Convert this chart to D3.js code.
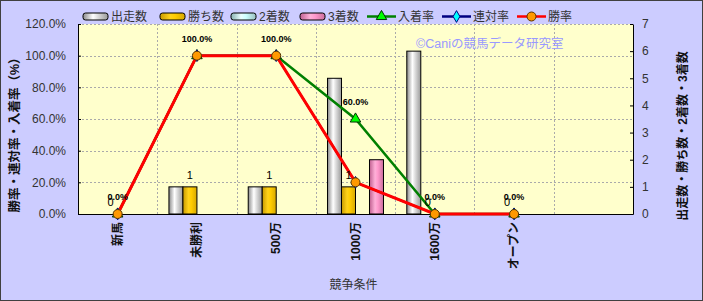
<!DOCTYPE html>
<html><head><meta charset="utf-8">
<script src="https://cdn.jsdelivr.net/npm/d3@7"></script>
<style>
html,body{margin:0;padding:0;background:#fff;}
svg text{font-family:"Liberation Sans","Noto Sans CJK JP",sans-serif;}
</style></head>
<body><svg id="c" width="703" height="301"></svg>
<script>
// ---- data ----
const categories = ["新馬","未勝利","500万","1000万","1600万","オープン",""];
const starters = [0,1,1,5,6,0];
const wins = [0,1,1,1,0,0];
const seconds = [0,0,0,0,0,0];
const thirds = [0,0,0,2,0,0];
const placeRate = [0,100,100,60,0,0];
const rentaiRate = [0,100,100,20,0,0];
const winRate = [0,100,100,20,0,0];
const leftTicks = [0,20,40,60,80,100,120];
const rightTicks = [0,1,2,3,4,5,6,7];
const barSeries = ["出走数","勝ち数","2着数","3着数"];
const lineSeries = ["入着率","連対率","勝率"];

// ---- layout ----
const W=703,H=301;
const P={l:78,r:633,t:24,b:214};
const svg=d3.select("#c");
const defs=svg.append("defs");
svg.append("rect").attr("width",W).attr("height",H).attr("fill","#CCCCFF");
svg.append("rect").attr("x",0.5).attr("y",0.5).attr("width",W-1).attr("height",H-1)
  .attr("fill","none").attr("stroke","#404040");
svg.append("rect").attr("x",P.l).attr("y",P.t).attr("width",P.r-P.l).attr("height",P.b-P.t).attr("fill","#FFFFCC");

const x=d3.scaleBand().domain(categories).range([P.l,P.r]).padding(0);
const bw=x.bandwidth(), gw=bw*0.706;
const x1=d3.scaleBand().domain(barSeries).range([(bw-gw)/2,(bw+gw)/2]).padding(0);
const yL=d3.scaleLinear().domain([0,120]).range([P.b,P.t]);
const yR=d3.scaleLinear().domain([0,7]).range([P.b,P.t]);

// gradients
const barStyles=[
 {id:"g0",c:["#8a8a8a","#ffffff","#dcdcdc","#9a9a9a"]},
 {id:"g1",c:["#c89a00","#ffd21a","#ffcc00","#d6a800"]},
 {id:"g2",c:["#88b0b0","#eaffff","#ccffff","#99bfbf"]},
 {id:"g3",c:["#c06090","#ffb0d8","#ff99cc","#cc6e9c"]}
];
barStyles.forEach(s=>{
  const g=defs.append("linearGradient").attr("id",s.id).attr("x1","0").attr("x2","1").attr("y1","0").attr("y2","0");
  [0,0.4,0.6,1].forEach((o,i)=>g.append("stop").attr("offset",o).attr("stop-color",s.c[i]));
});

// gridlines
const grid=svg.append("g").attr("stroke","#aaa").attr("stroke-dasharray","2,2").attr("stroke-width",1);
grid.selectAll("line.h").data(leftTicks.filter(d=>d>0)).join("line")
  .attr("x1",P.l).attr("x2",P.r).attr("y1",d=>Math.round(yL(d))+0.5).attr("y2",d=>Math.round(yL(d))+0.5);
grid.selectAll("line.v").data(categories.slice(1)).join("line")
  .attr("x1",d=>Math.round(x(d))+0.5).attr("x2",d=>Math.round(x(d))+0.5).attr("y1",P.t).attr("y2",P.b);

// bars
const barData=[starters,wins,seconds,thirds];
barData.forEach((arr,si)=>{
  svg.append("g").selectAll("rect").data(arr.map((v,i)=>({v,c:categories[i]})).filter(d=>d.v>0)).join("rect")
    .attr("x",d=>x(d.c)+x1(barSeries[si])).attr("width",x1.bandwidth())
    .attr("y",d=>yR(d.v)).attr("height",d=>yR(0)-yR(d.v))
    .attr("fill",`url(#g${si})`).attr("stroke","#000").attr("stroke-width",1);
});

// axes
const axL=svg.append("g").attr("transform",`translate(${P.l},0)`)
  .call(d3.axisLeft(yL).tickValues(leftTicks).tickFormat(d=>d.toFixed(1)+"%").tickSizeInner(-3).tickSizeOuter(0).tickPadding(12));
const axR=svg.append("g").attr("transform",`translate(${P.r},0)`)
  .call(d3.axisRight(yR).tickValues(rightTicks).tickFormat(d3.format("d")).tickSizeInner(-3).tickSizeOuter(0).tickPadding(9));
[axL,axR].forEach(a=>{a.select(".domain").attr("stroke","#000");a.selectAll("line").attr("stroke","#000");
  a.selectAll("text").attr("font-size",12).attr("fill","#333");});
const axB=svg.append("g").attr("transform",`translate(0,${P.b})`)
  .call(d3.axisBottom(x).tickSize(0).tickFormat(d=>d));
axB.select(".domain").attr("stroke","#000");
axB.selectAll("text").attr("font-size",12).attr("font-weight","bold").attr("fill","#111")
  .attr("transform","rotate(-90)").attr("text-anchor","end").attr("x",-8).attr("y",0).attr("dy","0.35em");

// lines
const lineData=[placeRate,rentaiRate,winRate];
const lineColors=["#008000","#000080","#FF0000"];
const lineWidths=[2.5,2,3];
const lg=d3.line().x((d,i)=>x(categories[i])+bw/2).y(d=>yL(d));
lineData.forEach((arr,si)=>{
  svg.append("path").datum(arr).attr("d",lg).attr("fill","none")
    .attr("stroke",lineColors[si]).attr("stroke-width",lineWidths[si]);
});
function marker(g,si,cx,cy){
  if(si===0) g.append("path").attr("d",d3.symbol(d3.symbolTriangle,48)()).attr("transform",`translate(${cx},${cy})`)
     .attr("fill","#00FF00").attr("stroke","#003300").attr("stroke-width",1);
  else if(si===1) g.append("path").attr("d",d3.symbol(d3.symbolDiamond,40)()).attr("transform",`translate(${cx},${cy})`)
     .attr("fill","#00FFFF").attr("stroke","#000080").attr("stroke-width",1);
  else g.append("circle").attr("cx",cx).attr("cy",cy).attr("r",4.5)
     .attr("fill","#FF9900").attr("stroke","#553300").attr("stroke-width",1);
}
lineData.forEach((arr,si)=>{
  const g=svg.append("g");
  arr.forEach((v,i)=>marker(g,si,x(categories[i])+bw/2,yL(v)));
});

// data labels
svg.append("g").selectAll("text").data(wins).join("text")
  .attr("x",(d,i)=>x(categories[i])+x1("勝ち数")+x1.bandwidth()/2).attr("y",d=>yR(d)-8)
  .attr("text-anchor","middle").attr("font-size",11).attr("fill","#000").text(d=>d);
svg.append("g").selectAll("text").data(placeRate).join("text")
  .attr("x",(d,i)=>x(categories[i])+bw/2).attr("y",d=>yL(d)-14)
  .attr("text-anchor","middle").attr("font-size",9).attr("font-weight","bold").attr("fill","#000").text(d=>d.toFixed(1)+"%");

// watermark
svg.append("text").attr("x",416).attr("y",48).attr("font-size",12.5).attr("fill","#9999FF").text("©Caniの競馬データ研究室");

// axis titles
svg.append("text").attr("transform","translate(19,132) rotate(-90)").attr("text-anchor","middle")
  .attr("font-size",12.5).attr("font-weight","bold").attr("fill","#111").text("勝率・連対率・入着率（%）");
svg.append("text").attr("transform","translate(687,136) rotate(-90)").attr("text-anchor","middle")
  .attr("font-size",12).attr("font-weight","bold").attr("fill","#111").text("出走数・勝ち数・2着数・3着数");
svg.append("text").attr("x",(P.l+P.r)/2 - 2).attr("y",289).attr("text-anchor","middle")
  .attr("font-size",12).attr("fill","#333").text("競争条件");

// legend
const legBarX=[83,160,231,300];
const lg2=svg.append("g");
barSeries.forEach((s,i)=>{
  lg2.append("rect").attr("x",legBarX[i]).attr("y",13).attr("width",25).attr("height",7).attr("rx",2.5)
    .attr("fill",`url(#g${i})`).attr("stroke","#000");
  lg2.append("text").attr("x",legBarX[i]+28).attr("y",21).attr("font-size",12).attr("fill","#333").text(s);
});
const legLineX=[367,442,517];
lineSeries.forEach((s,i)=>{
  lg2.append("line").attr("x1",legLineX[i]).attr("x2",legLineX[i]+29).attr("y1",16.5).attr("y2",16.5)
    .attr("stroke",lineColors[i]).attr("stroke-width",2.5);
  marker(lg2,i,legLineX[i]+14.5,16.5);
  lg2.append("text").attr("x",legLineX[i]+31).attr("y",21).attr("font-size",12).attr("fill","#333").text(s);
});
</script></body></html>
